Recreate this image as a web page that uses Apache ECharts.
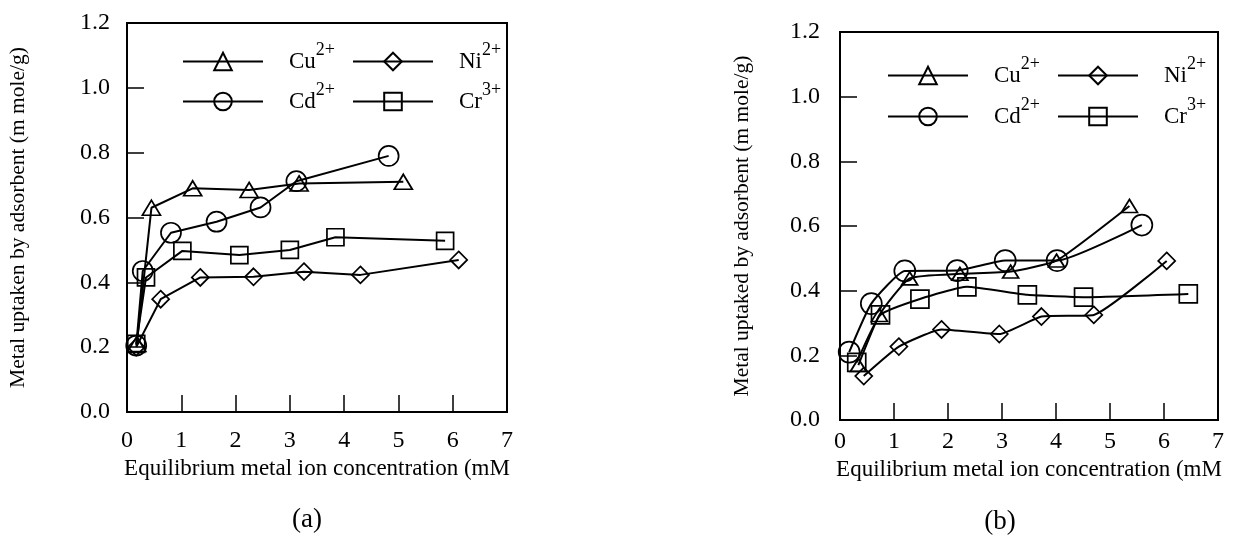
<!DOCTYPE html>
<html><head><meta charset="utf-8">
<script src="https://cdn.jsdelivr.net/npm/echarts@6/dist/echarts.min.js"></script>
<style>html,body{margin:0;padding:0;background:#fff}#c{width:1233px;height:541px}</style>
</head><body><div id="c"></div>
<script>
// ---- data (x: equilibrium concentration mM, y: uptake m mole/g) ----
const names = ['Cu2+', 'Cd2+', 'Ni2+', 'Cr3+'];
const cuA = [[0.18,0.21],[0.45,0.63],[1.21,0.69],[2.25,0.685],[3.17,0.705],[5.09,0.71]];
const cdA = [[0.17,0.205],[0.29,0.435],[0.81,0.553],[1.65,0.587],[2.46,0.631],[3.12,0.712],[4.82,0.79]];
const niA = [[0.17,0.20],[0.62,0.348],[1.35,0.415],[2.33,0.417],[3.26,0.433],[4.30,0.423],[6.11,0.469]];
const crA = [[0.17,0.21],[0.35,0.415],[1.02,0.497],[2.07,0.484],[3.00,0.50],[3.84,0.539],[5.86,0.528]];
const cuB = [[0.34,0.17],[0.73,0.325],[1.29,0.438],[2.22,0.452],[3.16,0.459],[4.01,0.493],[5.36,0.662]];
const cdB = [[0.17,0.21],[0.58,0.36],[1.20,0.461],[2.17,0.462],[3.06,0.493],[4.02,0.493],[5.59,0.603]];
const niB = [[0.44,0.136],[1.09,0.227],[1.88,0.28],[2.95,0.266],[3.73,0.32],[4.70,0.325],[6.05,0.492]];
const crB = [[0.31,0.178],[0.75,0.325],[1.48,0.374],[2.35,0.412],[3.47,0.387],[4.51,0.38],[6.45,0.39]];
const xTicks = [0,1,2,3,4,5,6,7];
const yTicks = ['0.0','0.2','0.4','0.6','0.8','1.0','1.2'];
const yTitles = ['Metal uptaken by adsorbent (m mole/g)', 'Metal uptaked by adsorbent (m mole/g)'];
const xTitle = 'Equilibrium metal ion concentration (mM';
const panelLabels = ['(a)', '(b)'];
const legendRich = {'Cu2+':['Cu','2+'],'Cd2+':['Cd','2+'],'Ni2+':['Ni','2+'],'Cr3+':['Cr','3+']};

const FF = 'Liberation Serif';
const chart = echarts.init(document.getElementById('c'), null, {renderer:'canvas'});

const symbolDefs = {
  'Cu2+': {symbol:'triangle', size:[[18,15],[16,13]]},
  'Cd2+': {symbol:'circle', size:[20,21]},
  'Ni2+': {symbol:'diamond', size:[[17,17],[17,17]]},
  'Cr3+': {symbol:'rect', size:[17,18]}
};
const smoothness = [0, 0.15];

function mkSeries(name, data, idx) {
  const d = symbolDefs[name];
  return {
    type:'line', name, data, xAxisIndex:idx, yAxisIndex:idx,
    symbol:d.symbol, symbolSize:d.size[idx], smooth:smoothness[idx],
    showAllSymbol:true,
    lineStyle:{color:'#000', width:2},
    itemStyle:{color:'rgba(0,0,0,0)', borderColor:'#000', borderWidth:1.7},
    emphasis:{disabled:true},
    z:2
  };
}

const grids = [
  {left:127, top:23, width:380, height:389},
  {left:840, top:32, width:378, height:388}
];
const xMargin = [17, 10];
const xGap = [42, 36];
const yMargin = [17, 20];
const yGap = [98, 87];

function mkX(i) {
  return {
    type:'value', gridIndex:i, min:0, max:7, interval:1,
    axisLine:{show:true, onZero:false, lineStyle:{color:'#000', width:2}},
    axisTick:{show:true, inside:true, length:17, lineStyle:{color:'#000', width:1.5}},
    splitLine:{show:false},
    axisLabel:{color:'#000', fontFamily:FF, fontSize:24, margin:xMargin[i],
      formatter: v => String(xTicks[Math.round(v)])},
    name:xTitle, nameLocation:'middle', nameGap:xGap[i],
    nameTextStyle:{color:'#000', fontFamily:FF, fontSize:23}
  };
}
function mkY(i) {
  return {
    type:'value', gridIndex:i, min:0, max:1.2, interval:0.2,
    axisLine:{show:true, onZero:false, lineStyle:{color:'#000', width:2}},
    axisTick:{show:true, inside:true, length:17, lineStyle:{color:'#000', width:1.5}},
    splitLine:{show:false},
    axisLabel:{color:'#000', fontFamily:FF, fontSize:24, margin:yMargin[i],
      formatter: v => yTicks[Math.round(v/0.2)]},
    name:yTitles[i], nameLocation:'middle', nameGap:yGap[i], nameRotate:90,
    nameTextStyle:{color:'#000', fontFamily:FF, fontSize:21.5}
  };
}

function mkLegend(data, left, top, gap) {
  return {
    data, left, top, orient:'vertical', itemGap:gap, padding:0,
    itemWidth:80, itemHeight:22, selectedMode:false,
    lineStyle:{width:2, color:'#000'},
    itemStyle:{borderWidth:2, borderColor:'#000', color:'rgba(0,0,0,0)'},
    formatter: n => '{m|' + legendRich[n][0] + '}{s|' + legendRich[n][1] + '}',
    textStyle:{color:'#000', fontFamily:FF, fontSize:22, padding:[0,0,0,21],
      rich:{
        m:{fontFamily:FF, fontSize:23, lineHeight:41, color:'#000'},
        s:{fontFamily:FF, fontSize:18, lineHeight:14, verticalAlign:'top', color:'#000'}
      }}
  };
}

const option = {
  backgroundColor:'#fff',
  animation:false,
  grid: grids.map(g => Object.assign({show:true, borderColor:'#000', borderWidth:2, backgroundColor:'rgba(0,0,0,0)'}, g)),
  xAxis:[mkX(0), mkX(1)],
  yAxis:[mkY(0), mkY(1)],
  legend:[
    mkLegend(['Cu2+','Cd2+'], 182, 41, 8),
    mkLegend(['Ni2+','Cr3+'], 352, 41, 8),
    mkLegend(['Cu2+','Cd2+'], 887, 55, 9),
    mkLegend(['Ni2+','Cr3+'], 1057, 55, 9)
  ],
  graphic:[
    {type:'text', x:307, y:520, style:{text:panelLabels[0], align:'center', verticalAlign:'middle', fontSize:27, fontFamily:FF, fill:'#000'}},
    {type:'text', x:1000, y:522, style:{text:panelLabels[1], align:'center', verticalAlign:'middle', fontSize:27, fontFamily:FF, fill:'#000'}}
  ],
  series:[
    mkSeries('Cu2+', cuA, 0), mkSeries('Cd2+', cdA, 0), mkSeries('Ni2+', niA, 0), mkSeries('Cr3+', crA, 0),
    mkSeries('Cu2+', cuB, 1), mkSeries('Cd2+', cdB, 1), mkSeries('Ni2+', niB, 1), mkSeries('Cr3+', crB, 1)
  ]
};
chart.setOption(option);
</script>
</body></html>
